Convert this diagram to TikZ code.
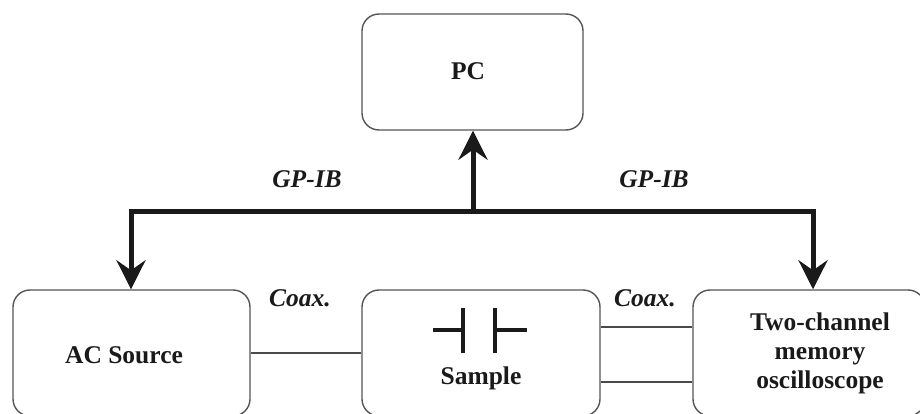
\documentclass[tikz,border=0pt]{standalone}
\usepackage{fontspec}
\setmainfont{Liberation Serif}
\usetikzlibrary{arrows.meta}
\definecolor{boxgray}{HTML}{555555}
\definecolor{linegray}{HTML}{4A4A4A}
\definecolor{ink}{HTML}{1A1A1A}
\tikzset{
  box/.style={draw=boxgray, line width=1.4pt, rounded corners=17pt, inner sep=0pt, fill=none},
  lbl/.style={font=\fontsize{25.5}{29}\selectfont\bfseries, text=ink, inner sep=0pt},
  ilbl/.style={font=\fontsize{25.5}{29}\selectfont\bfseries\itshape, text=ink, inner sep=0pt},
  bus/.style={draw=ink, line width=5pt, line join=miter},
  tip/.style={-{Stealth[length=29pt,width=29pt,inset=10pt]}},
  wire/.style={draw=linegray, line width=1.4pt},
  capline/.style={draw=ink, line width=3.5pt},
}
\begin{document}
\begin{tikzpicture}[x=1pt,y=-1pt]
\useasboundingbox (0,0) rectangle (920,414);
\clip (0,0) rectangle (920,414);
% boxes
\node[box, minimum width=221pt, minimum height=116pt] (pc) at (472.5,72) {};
\node[box, minimum width=237pt, minimum height=126pt] (ac) at (131.5,353) {};
\node[box, minimum width=238pt, minimum height=126pt] (sample) at (481,353) {};
\node[box, minimum width=232pt, minimum height=126pt] (osc) at (809,353) {};
% texts
\node[lbl] (pct) at (468,71) {PC};
\node[lbl] (act) at (124,355) {AC Source};
\node[lbl, anchor=base] (st) at (481,384) {Sample};
\node[lbl, anchor=base] (o1) at (820,330) {Two-channel};
\node[lbl, anchor=base] (o2) at (820,359) {memory};
\node[lbl, anchor=base] (o3) at (820,388) {oscilloscope};
\node[ilbl] (g1) at (307,179) {GP-IB};
\node[ilbl] (g2) at (654,179) {GP-IB};
\node[ilbl] (c1) at (300,298) {Coax.};
\node[ilbl] (c2) at (645,298) {Coax.};
% bus
\coordinate (jl) at (131,211);
\coordinate (j) at (473,211);
\coordinate (jr) at (813,211);
\draw[bus, {Stealth[length=29pt,width=29pt,inset=10pt]}-{Stealth[length=29pt,width=29pt,inset=10pt]}]
  (jl |- ac.north) -- (jl) -- (jr) -- (jr |- osc.north);
\draw[bus, tip] (j) -- (j |- pc.south);
% coax wires
\draw[wire] (ac.east) -- (sample.west);
\draw[wire] ([yshift=26pt]sample.east) -- ([yshift=26pt]osc.west);
\draw[wire] ([yshift=-29pt]sample.east) -- ([yshift=-29pt]osc.west);
% capacitor symbol
\coordinate (cl) at (433,330);
\coordinate (cp1) at (463,330);
\coordinate (cp2) at (495,330);
\coordinate (cr) at (527,330);
\draw[capline] (cl) -- (cp1);
\draw[capline] ([yshift=22pt]cp1) -- ([yshift=-23pt]cp1);
\draw[capline] ([yshift=22pt]cp2) -- ([yshift=-23pt]cp2);
\draw[capline] (cp2) -- (cr);
\end{tikzpicture}
\end{document}
